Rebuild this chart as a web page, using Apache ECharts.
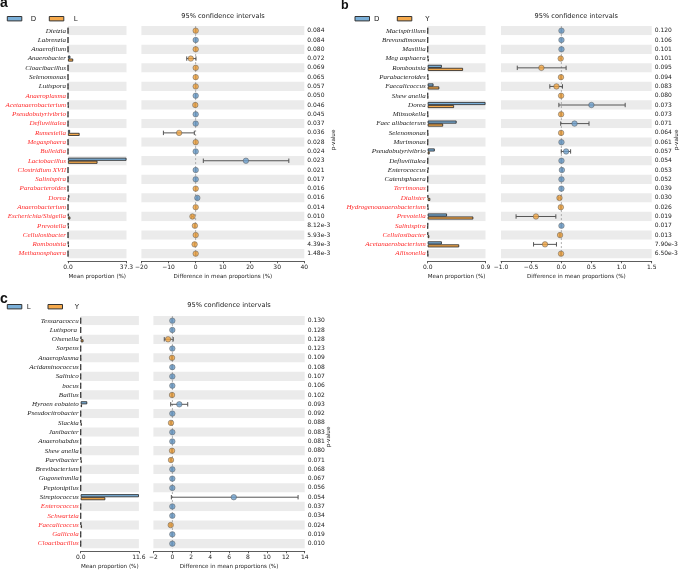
<!DOCTYPE html>
<html><head><meta charset="utf-8">
<script src="https://cdn.jsdelivr.net/npm/echarts@6.0.0/dist/echarts.min.js"></script>
<style>html,body{margin:0;padding:0;background:#fff}#chart{width:685px;height:571px}</style>
</head><body><div id="chart"></div>
<script>
// ---------- Panel a : D vs L ----------
const aGroups = ['D', 'L'];
const aCategories = ['Dietzia','Labrenzia','Anaerofilum','Anaerobacter','Cloacibacillus','Selenomonas','Lutispora','Anaeroplasma','Acetanaerobacterium','Pseudobutyrivibrio','Defluviitalea','Rumesiella','Megasphaera','Bulleidia','Lactobacillus','Clostridium XVII','Salinispira','Parabacteroides','Dorea','Anaerobacterium','Escherichia/Shigella','Prevotella','Cellulosibacter','Romboutsia','Methanosphaera'];
const aMean1 = [0.01,0.03,0.01,1.5,0.02,0.01,0.01,0.04,0.15,0.05,0.04,1.3,0.02,0.05,37.3,0.04,0.04,0.02,0.9,0.01,0.3,0.2,0.02,0.2,0.01];
const aMean2 = [0.03,0.01,0.04,3.3,0.05,0.04,0.03,0.01,0.3,0.01,0.01,7.4,0.06,0.01,18.8,0.01,0.01,0.05,0.3,0.03,1.5,0.5,0.05,0.6,0.04];
const aDiff = [0,0,0,-1.8,0,0,0,0,-0.15,0,0,-6.1,0,0,18.5,0,0,0,0.6,0,-1.2,-0.3,0,-0.4,0];
const aLow  = [-0.1,-0.1,-0.1,-3.3,-0.1,-0.1,-0.1,-0.1,-0.3,-0.1,-0.1,-11.9,-0.1,-0.1,2.8,-0.1,-0.1,-0.1,0.4,-0.1,-1.5,-0.4,-0.1,-0.5,-0.1];
const aHigh = [0.1,0.1,0.1,0.1,0.1,0.1,0.1,0.1,0.0,0.1,0.1,-0.5,0.1,0.1,34.3,0.1,0.1,0.1,0.8,0.1,-0.9,-0.2,0.1,-0.3,0.1];
const aPvalues = [0.084,0.084,0.080,0.072,0.069,0.065,0.057,0.0498,0.046,0.045,0.037,0.036,0.028,0.024,0.023,0.021,0.017,0.016,0.016,0.014,0.010,8.12e-3,5.93e-3,4.39e-3,1.48e-3];
const aDiffTicks = [-20,-10,0,10,20,30,40];

// ---------- Panel b : D vs Y ----------
const bGroups = ['D', 'Y'];
const bCategories = ['Macispirillum','Brevundimonas','Maslilia','Meg asphaera','Romboutsia','Parabacteroides','Faecalicoccus','Shew anella','Dorea','Mitsuokella','Faec alibacterum','Selenomonas','Murimonas','Pseudobutyrivibrio','Defluviitalea','Enterococcus','Catenisphaera','Terrimonas','Dialister','Hydrogenoanaerobacterium','Prevotella','Salinispira','Cellulosibacter','Acetanaerobacterium','Allisonella'];
const bMean1 = [0.002,0.002,0.002,0.005,0.22,0.003,0.09,0.001,0.9,0.001,0.45,0.001,0.002,0.11,0.003,0.012,0.002,0.001,0.005,0.003,0.30,0.003,0.003,0.22,0.001];
const bMean2 = [0.0005,0.0005,0.0005,0.015,0.55,0.008,0.18,0.004,0.41,0.004,0.24,0.004,0.0005,0.03,0.0005,0.002,0.0005,0.0003,0.04,0.01,0.71,0.0005,0.025,0.49,0.005];
const bDiff = [0.003,0.003,0.003,-0.01,-0.33,-0.005,-0.08,-0.003,0.5,-0.003,0.22,-0.003,0.003,0.08,0.003,0.01,0.003,0.002,-0.03,-0.007,-0.42,0.003,-0.02,-0.27,-0.004];
const bLow  = [-0.005,-0.005,-0.005,-0.02,-0.73,-0.015,-0.19,-0.01,-0.04,-0.01,-0.01,-0.01,-0.005,0.0,-0.005,0.0,-0.005,-0.005,-0.05,-0.015,-0.75,-0.005,-0.03,-0.46,-0.01];
const bHigh = [0.01,0.01,0.01,0.0,0.08,0.005,0.02,0.004,1.06,0.004,0.46,0.004,0.01,0.155,0.01,0.02,0.01,0.01,-0.01,0.0,-0.09,0.01,-0.01,-0.08,0.002];
const bPvalues = [0.120,0.106,0.101,0.101,0.095,0.094,0.083,0.080,0.073,0.073,0.071,0.064,0.061,0.057,0.054,0.053,0.052,0.039,0.030,0.026,0.019,0.017,0.013,7.90e-3,6.50e-3];
const bDiffTicks = [-1.0,-0.5,0.0,0.5,1.0,1.5];

// ---------- Panel c : L vs Y ----------
const cGroups = ['L', 'Y'];
const cCategories = ['Tessaracoccu','Lutispora ','Olsenella','Sorpens','Anaeroplasma','Acidaminococcus','Salinico','bocus','Baillus','Hyroen eobateto','Pseudocitrobacter','Slackia','Janibacter','Anaerohabdus','Shew anella','Parvibacter','Brevibacterium','Gugoneinmlla','Peptonipilus','Streptococcus','Enterococcus','Schwartzia','Faecalicoccus','Gallicola','Cloacibacillus'];
const cMean1 = [0.01,0.01,0.1,0.01,0.01,0.01,0.01,0.01,0.01,1.3,0.01,0.02,0.01,0.01,0.01,0.05,0.01,0.01,0.01,11.6,0.02,0.01,0.05,0.01,0.01];
const cMean2 = [0.002,0.002,0.55,0.002,0.03,0.002,0.002,0.002,0.03,0.25,0.002,0.2,0.002,0.002,0.03,0.2,0.002,0.002,0.002,4.9,0.002,0.002,0.25,0.002,0.002];
const cDiff = [0,0,-0.45,0,-0.03,0,0,0,-0.03,0.74,0,-0.14,0,0,-0.03,-0.14,0,0,0,6.5,0,0,-0.17,0,0];
const cLow  = [-0.05,-0.05,-0.85,-0.05,-0.08,-0.05,-0.05,-0.05,-0.08,-0.17,-0.05,-0.2,-0.05,-0.05,-0.08,-0.2,-0.05,-0.05,-0.05,-0.1,-0.05,-0.05,-0.25,-0.05,-0.05];
const cHigh = [0.05,0.05,0.1,0.05,0.02,0.05,0.05,0.05,0.02,1.63,0.05,-0.08,0.05,0.05,0.02,-0.08,0.05,0.05,0.05,13.3,0.05,0.05,-0.1,0.05,0.05];
const cPvalues = [0.130,0.128,0.128,0.123,0.109,0.108,0.107,0.106,0.102,0.093,0.092,0.088,0.083,0.081,0.080,0.071,0.068,0.067,0.056,0.054,0.037,0.034,0.024,0.019,0.010];
const cDiffTicks = [-2,0,2,4,6,8,10,12,14];

// ---------- styling / layout ----------
const BLUE_BAR = '#7bb0d9', ORANGE_BAR = '#f6aa4c';
const BLUE_PT = '#6d9fcc', ORANGE_PT = '#f0a441';
const STRIPE = '#ebebeb';
const ROW_H = 9.29;
const SERIF = 'Liberation Serif';
const SANS = 'DejaVu Sans';

const panels = [
  {letter:'a', groups:aGroups, cats:aCategories, m1:aMean1, m2:aMean2, diff:aDiff, low:aLow, high:aHigh, p:aPvalues, ticks:aDiffTicks,
   L:{top:26.05, bar:[68,58.5], ci:[141.4,162.9], letter:[0,-4.2,14], leg:{r1:7.3,t1:33.5,r2:49.3,t2:75.7,y:18.7}, title:[223,16], pv:[333.5,140]}},
  {letter:'b', groups:bGroups, cats:bCategories, m1:bMean1, m2:bMean2, diff:bDiff, low:bLow, high:bHigh, p:bPvalues, ticks:bDiffTicks,
   L:{top:26.05, bar:[427.7,57.8], ci:[501,150.7], letter:[341,-1.2,12.5], leg:{r1:355,t1:376.7,r2:397.3,t2:427.3,y:18.7}, title:[576.3,16], pv:[677,140]}},
  {letter:'c', groups:cGroups, cats:cCategories, m1:cMean1, m2:cMean2, diff:cDiff, low:cLow, high:cHigh, p:cPvalues, ticks:cDiffTicks,
   L:{top:316.05, bar:[80.7,58.2], ci:[153.4,151.3], letter:[0,292.5,14], leg:{r1:7.3,t1:28.7,r2:48,t2:77,y:306.7}, title:[229,305.7], pv:[329,437]}}
];

function fmtP(v){ return v < 0.01 ? v.toExponential(2) : v.toFixed(3); }

const grid = [], xAxis = [], yAxis = [], series = [], graphic = [];
const axisLineStyle = {color:'#333', width:0.8};

panels.forEach((pn, k) => {
  const L = pn.L;
  const n = pn.cats.length;
  const h = n * ROW_H;
  const gBar = 2*k, gCi = 2*k+1;
  grid.push({left:L.bar[0], top:L.top, width:L.bar[1], height:h});
  grid.push({left:L.ci[0], top:L.top, width:L.ci[1], height:h});

  const dataMax = Math.max(...pn.m1, ...pn.m2);
  xAxis.push({gridIndex:gBar, type:'value', min:0, max:dataMax, interval:dataMax, offset:3,
    axisLine:{show:true, lineStyle:axisLineStyle},
    axisTick:{show:true, length:2, lineStyle:axisLineStyle},
    axisLabel:{formatter:v=>v.toFixed(1), fontSize:6, fontFamily:SANS, color:'#222', margin:3},
    splitLine:{show:false},
    name:'Mean proportion (%)', nameLocation:'middle', nameGap:12,
    nameTextStyle:{fontSize:5.6, fontFamily:SANS, color:'#222'}});
  const tmin = Math.min(...pn.ticks), tmax = Math.max(...pn.ticks);
  const step = pn.ticks[1]-pn.ticks[0];
  const dec = pn.ticks.some(t => Math.round(t) !== t) ? 1 : 0;
  xAxis.push({gridIndex:gCi, type:'value', min:tmin, max:tmax, interval:step, offset:3,
    axisLine:{show:true, onZero:false, lineStyle:axisLineStyle},
    axisTick:{show:true, length:2, lineStyle:axisLineStyle},
    axisLabel:{formatter:v=>(v<0?'\u2212':'')+Math.abs(v).toFixed(dec), fontSize:6, fontFamily:SANS, color:'#222', margin:3},
    splitLine:{show:false},
    name:'Difference in mean proportions (%)', nameLocation:'middle', nameGap:12,
    nameTextStyle:{fontSize:5.6, fontFamily:SANS, color:'#222'}});

  const split = {show:true, areaStyle:{color:[STRIPE,'#ffffff']}};
  yAxis.push({gridIndex:gBar, type:'category', data:pn.cats, inverse:true,
    axisLine:{show:false}, axisTick:{show:false}, splitLine:{show:false}, splitArea:split,
    axisLabel:{margin:2, fontSize:7, fontFamily:SERIF, fontStyle:'italic',
      color:(v, i) => pn.p[i] <= 0.05 ? '#ff2a2a' : '#222'}});
  yAxis.push({gridIndex:gCi, type:'category', data:pn.p.map(fmtP), inverse:true, position:'right',
    axisLine:{show:false}, axisTick:{show:false}, splitLine:{show:false}, splitArea:split,
    axisLabel:{margin:3, fontSize:6, fontFamily:SANS, color:'#222'}});

  const barBase = {type:'bar', xAxisIndex:gBar, yAxisIndex:gBar, barWidth:3, barGap:'0%', silent:true};
  series.push(Object.assign({}, barBase, {name:pn.groups[0], data:pn.m1, itemStyle:{color:BLUE_BAR, borderColor:'#222', borderWidth:0.8}}));
  series.push(Object.assign({}, barBase, {name:pn.groups[1], data:pn.m2, itemStyle:{color:ORANGE_BAR, borderColor:'#222', borderWidth:0.8}}));

  series.push({type:'custom', xAxisIndex:gCi, yAxisIndex:gCi, silent:true, z:2,
    data:pn.cats.map((c,i)=>[i, pn.low[i], pn.high[i]]),
    encode:{y:0, x:[1,2]},
    renderItem:(params, api) => {
      const yi = api.value(0);
      const a = api.coord([api.value(1), yi]);
      const b = api.coord([api.value(2), yi]);
      const ch = 2.2;
      const st = {stroke:'#555', lineWidth:1};
      const children = [
        {type:'line', shape:{x1:a[0],y1:a[1],x2:b[0],y2:b[1]}, style:st},
        {type:'line', shape:{x1:a[0],y1:a[1]-ch,x2:a[0],y2:a[1]+ch}, style:st},
        {type:'line', shape:{x1:b[0],y1:b[1]-ch,x2:b[0],y2:b[1]+ch}, style:st}
      ];
      if (params.dataIndex === 0) {
        const cs = params.coordSys;
        const zx = api.coord([0, 0])[0];
        children.unshift({type:'line', shape:{x1:zx, y1:cs.y, x2:zx, y2:cs.y+cs.height},
          style:{stroke:'#9a9a9a', lineWidth:0.8, lineDash:[2,2]}});
      }
      return {type:'group', children};
    }
  });
  series.push({type:'scatter', xAxisIndex:gCi, yAxisIndex:gCi, silent:true, z:3, symbolSize:5.5,
    data:pn.cats.map((c,i)=>({value:[pn.diff[i], i],
      itemStyle:{color: pn.m1[i] >= pn.m2[i] ? BLUE_PT : ORANGE_PT, borderColor:'#555', borderWidth:0.6}}))});

  // panel letter
  graphic.push({type:'text', x:L.letter[0], y:L.letter[1], silent:true,
    style:{text:pn.letter, fontSize:L.letter[2], fontWeight:'bold', fontFamily:'Liberation Sans', fill:'#111', verticalAlign:'top'}});
  // legend
  const lg = L.leg;
  graphic.push({type:'rect', silent:true, shape:{x:lg.r1, y:lg.y-2.2, width:14.5, height:4.4}, style:{fill:BLUE_BAR, stroke:'#333', lineWidth:1}});
  graphic.push({type:'text', silent:true, x:lg.t1, y:lg.y, style:{text:pn.groups[0], fontSize:7, fontFamily:SANS, fill:'#222', align:'center', verticalAlign:'middle'}});
  graphic.push({type:'rect', silent:true, shape:{x:lg.r2, y:lg.y-2.2, width:14.5, height:4.4}, style:{fill:ORANGE_BAR, stroke:'#333', lineWidth:1}});
  graphic.push({type:'text', silent:true, x:lg.t2, y:lg.y, style:{text:pn.groups[1], fontSize:7, fontFamily:SANS, fill:'#222', align:'center', verticalAlign:'middle'}});
  // title
  graphic.push({type:'text', silent:true, x:L.title[0], y:L.title[1], style:{text:'95% confidence intervals', fontSize:6.6, fontFamily:SANS, fill:'#222', align:'center', verticalAlign:'middle'}});
  // p-value label (reads bottom to top)
  graphic.push({type:'text', silent:true, x:L.pv[0], y:L.pv[1], rotation:Math.PI/2,
    style:{text:'p-value', fontSize:5.6, fontFamily:SANS, fill:'#222', align:'center', verticalAlign:'middle'}});
});

const chart = echarts.init(document.getElementById('chart'), null, {renderer:'canvas'});
chart.setOption({animation:false, backgroundColor:'#fff', grid, xAxis, yAxis, series, graphic});
</script></body></html>
